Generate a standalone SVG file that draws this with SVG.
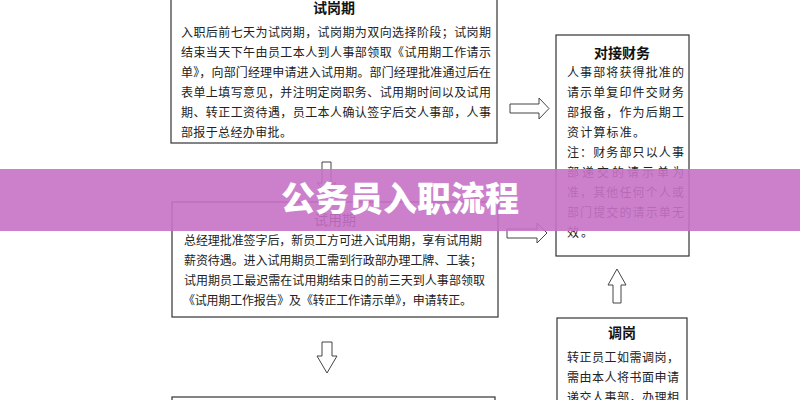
<svg xmlns="http://www.w3.org/2000/svg" width="800" height="400" viewBox="0 0 800 400">
<style>
.box{fill:#fff;stroke:#333;stroke-width:1.2}
.arr{fill:#fff;stroke:#444;stroke-width:1}
.t{font-family:"Noto Sans CJK SC","Liberation Serif",serif;font-size:12px;fill:#222}
.h{font-family:"Noto Sans CJK SC","Liberation Sans",sans-serif;font-size:14px;font-weight:bold;fill:#111;text-anchor:middle}
.ban{font-family:"Noto Sans CJK SC","Liberation Sans",sans-serif;font-size:34px;font-weight:900;fill:#fff;text-anchor:middle}
</style>
<rect width="800" height="400" fill="#fff"/>
<g id="connectors">
<path class="arr" d="M322,162 H331 V183 H336 L326.5,193 L317,183 H322 Z"/>
<path class="arr" d="M322,342 H332 V356 H337 L327,373 L317,356 H322 Z"/>
<path class="arr" d="M510,104 H539 V98 L549,108.5 L539,119 V113 H510 Z"/>
<path class="arr" d="M507,229 H537 V223 L547,233 L537,243 V238 H507 Z"/>
<path class="arr" d="M613,303 V285 H608 L617,269 L626,285 H621 V303 Z"/>
</g>
<g id="node-trial-post">
<rect class="box" x="171" y="-10" width="326" height="153"/>
<text class="h" x="334" y="13">试岗期</text>
<text class="t" x="181" y="36.5" textLength="310" lengthAdjust="spacing">入职后前七天为试岗期，试岗期为双向选择阶段；试岗期</text>
<text class="t" x="181" y="56.5" textLength="310" lengthAdjust="spacing">结束当天下午由员工本人到人事部领取《试用期工作请示</text>
<text class="t" x="181" y="76.5" textLength="310" lengthAdjust="spacing">单》，向部门经理申请进入试用期。部门经理批准通过后在</text>
<text class="t" x="181" y="96.5" textLength="310" lengthAdjust="spacing">表单上填写意见，并注明定岗职务、试用期时间以及试用</text>
<text class="t" x="181" y="116.5" textLength="310" lengthAdjust="spacing">期、转正工资待遇，员工本人确认签字后交人事部，人事</text>
<text class="t" x="181" y="136.5" textLength="111" lengthAdjust="spacing">部报于总经办审批。</text>
</g>
<g id="node-probation">
<rect class="box" x="172" y="202" width="326" height="115"/>
<text class="h" x="335" y="225" style="font-weight:normal">试用期</text>
<text class="t" x="184" y="244.5" textLength="298" lengthAdjust="spacing">总经理批准签字后，新员工方可进入试用期，享有试用期</text>
<text class="t" x="184" y="264.5" textLength="298" lengthAdjust="spacing">薪资待遇。进入试用期员工需到行政部办理工牌、工装；</text>
<text class="t" x="184" y="284.5" textLength="301" lengthAdjust="spacing">试用期员工最迟需在试用期结束日的前三天到人事部领取</text>
<text class="t" x="183" y="304.5" textLength="289" lengthAdjust="spacing">《试用期工作报告》及《转正工作请示单》，申请转正。</text>
</g>
<g id="node-next">
<rect class="box" x="172" y="397" width="323" height="20"/>
</g>
<g id="node-finance">
<rect class="box" x="556" y="35" width="133" height="221"/>
<text class="h" x="622" y="58">对接财务</text>
<text class="t" x="567" y="76.5" textLength="117" lengthAdjust="spacing">人事部将获得批准的</text>
<text class="t" x="567" y="96.5" textLength="117" lengthAdjust="spacing">请示单复印件交财务</text>
<text class="t" x="567" y="116.5" textLength="117" lengthAdjust="spacing">部报备，作为后期工</text>
<text class="t" x="567" y="136.5" textLength="78" lengthAdjust="spacing">资计算标准。</text>
<text class="t" x="567" y="156.5" textLength="117" lengthAdjust="spacing">注：财务部只以人事</text>
<text class="t" x="567" y="176.5" textLength="117" lengthAdjust="spacing">部递交的请示单为</text>
<text class="t" x="567" y="196.5" textLength="117" lengthAdjust="spacing">准，其他任何个人或</text>
<text class="t" x="567" y="216.5" textLength="117" lengthAdjust="spacing">部门提交的请示单无</text>
<text class="t" x="567" y="236.5" textLength="26" lengthAdjust="spacing">效。</text>
</g>
<g id="node-transfer">
<rect class="box" x="557" y="318" width="130" height="100"/>
<text class="h" x="622" y="338">调岗</text>
<text class="t" x="567" y="361.5" textLength="112" lengthAdjust="spacing">转正员工如需调岗，</text>
<text class="t" x="567" y="381.5" textLength="112" lengthAdjust="spacing">需由本人将书面申请</text>
<text class="t" x="567" y="401.5" textLength="112" lengthAdjust="spacing">递交人事部，办理相</text>
</g>
<g id="banner">
<rect x="0" y="169" width="800" height="62" fill="rgb(198,114,198)" fill-opacity="0.9"/>
<text class="ban" x="400" y="211">公务员入职流程</text>
</g>
</svg>
